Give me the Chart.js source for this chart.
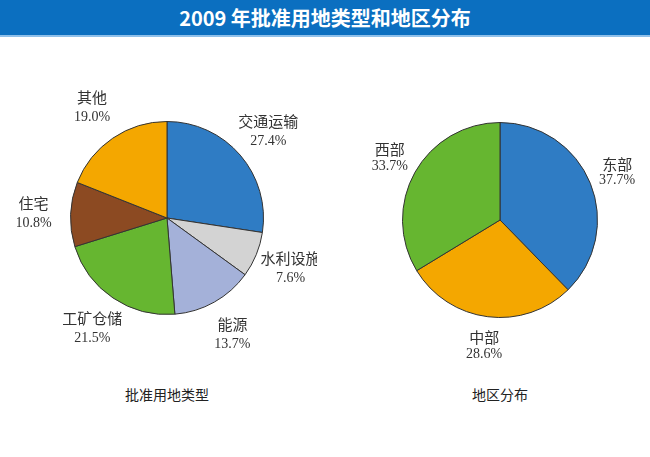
<!DOCTYPE html>
<html>
<head>
<meta charset="utf-8">
<script src="https://cdn.jsdelivr.net/npm/chart.js@4.4.0/dist/chart.umd.min.js"></script>
<style>
  body { margin: 0; width: 650px; height: 457px; background: #fff; position: relative; overflow: hidden; }
  #bar { position: absolute; left: 0; top: 0; width: 650px; height: 35px; background: #0b6fc0; border-bottom: 2px solid #8fc0ea;
         color: #fff; font: bold 20px "Noto Sans CJK SC", sans-serif; text-align: center; line-height: 35px; }
  .box { position: absolute; width: 300px; height: 300px; }
  .cap { position: absolute; top: 384px; font: 14px "Noto Sans CJK SC", sans-serif; color: #222; width: 200px; text-align: center; }
</style>
</head>
<body>
<div id="bar">2009 年批准用地类型和地区分布</div>
<div class="box" style="left:17px; top:68px;"><canvas id="typeChart"></canvas></div>
<div class="box" style="left:350px; top:70px;"><canvas id="regionChart"></canvas></div>
<div class="cap" style="left:67px;">批准用地类型</div>
<div class="cap" style="left:400px;">地区分布</div>
<script>
const typeNames = ['交通运输', '水利设施', '能源', '工矿仓储', '住宅', '其他'];
const typeValues = [27.4, 7.6, 13.7, 21.5, 10.8, 19.0];
const typeColors = ['#2f7cc4', '#d3d3d3', '#a4b1d9', '#66b630', '#8c4a22', '#f4a700'];

const regionNames = ['东部', '中部', '西部'];
const regionValues = [37.7, 28.6, 33.7];
const regionColors = ['#2f7cc4', '#f4a700', '#66b630'];

// draws name + percent outside each slice
const outsideLabels = {
  id: 'outsideLabels',
  afterDraw(chart, args, opts) {
    const ctx = chart.ctx;
    const meta = chart.getDatasetMeta(0);
    const vals = chart.data.datasets[0].data;
    meta.data.forEach((arc, i) => {
      const a = (arc.startAngle + arc.endAngle) / 2;
      const d = arc.outerRadius + opts.gap;
      const x = arc.x + Math.cos(a) * d;
      const y = arc.y + Math.sin(a) * d;
      ctx.save();
      ctx.fillStyle = '#333';
      ctx.textAlign = 'center';
      ctx.textBaseline = 'middle';
      ctx.font = '15px "Noto Sans CJK SC", serif';
      ctx.fillText(chart.data.labels[i], x, y - opts.line / 2);
      ctx.font = '14px "Liberation Serif", serif';
      ctx.fillText(vals[i].toFixed(1) + '%', x, y + opts.line / 2);
      ctx.restore();
    });
  }
};

function makePie(id, names, values, colors, padX, padY, gap, line) {
  return new Chart(document.getElementById(id), {
    type: 'pie',
    data: {
      labels: names,
      datasets: [{
        data: values,
        backgroundColor: colors,
        borderColor: '#333',
        borderWidth: 1
      }]
    },
    options: {
      responsive: true,
      maintainAspectRatio: false,
      animation: false,
      layout: { padding: { left: padX, right: padX, top: padY, bottom: padY } },
      plugins: {
        legend: { display: false },
        tooltip: { enabled: false },
        outsideLabels: { gap: gap, line: line }
      }
    },
    plugins: [outsideLabels]
  });
}

makePie('typeChart', typeNames, typeValues, typeColors, 33, 53, 37, 20);
makePie('regionChart', regionNames, regionValues, regionColors, 32, 52, 29, 17);
</script>
</body>
</html>
